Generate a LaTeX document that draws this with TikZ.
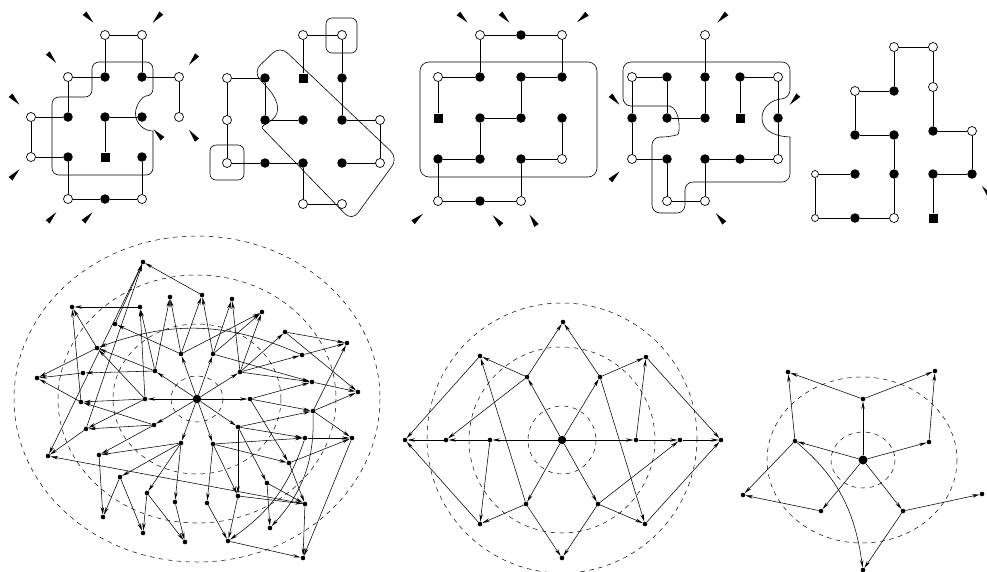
\documentclass[tikz,border=0pt]{standalone}
\usetikzlibrary{arrows.meta,calc,backgrounds}
\tikzset{
  opn/.style={circle, draw, fill=white, line width=0.7pt, inner sep=0pt, minimum size=9pt},
  fln/.style={circle, fill=black, inner sep=0pt, minimum size=9.5pt},
  sqn/.style={rectangle, fill=black, inner sep=0pt, minimum size=9pt},
  gl/.style={line width=0.7pt},
  reg/.style={line width=0.6pt},
  dot/.style={circle, fill=black, inner sep=0pt, minimum size=4.6pt},
  hub/.style={circle, fill=black, inner sep=0pt, minimum size=8.5pt},
  arr/.style={line width=0.55pt, -{Stealth[length=7.5pt,width=3.4pt]}},
  ring/.style={line width=0.5pt, dash pattern=on 4.5pt off 4.5pt}
}
% wedge-shaped pointer at (#1,#2) aimed at (#3,#4)
\newcommand{\tickmark}[4]{%
  \pgfmathsetmacro\tkang{atan2(-((#4)-(#2)),(#3)-(#1))}%
  \fill[shift={(#1,#2)}, rotate=\tkang] (6.5,0) -- (-6.5,2.6) -- (-6.5,-2.6) -- cycle;}
\begin{document}
\begin{tikzpicture}[x=1pt,y=-1pt]
\useasboundingbox (0,0) rectangle (987,571);

% ---------------- grid panel 1 ----------------
\node[opn] (p1) at (105,35) {}; \node[opn] (p2) at (142,35) {};
\node[opn] (p3) at (68,77) {};  \node[fln] (p4) at (105,77) {};
\node[fln] (p5) at (142,77) {}; \node[opn] (p6) at (179,77) {};
\node[opn] (p7) at (31,117) {}; \node[fln] (p8) at (68,117) {};
\node[fln] (p9) at (105,117) {}; \node[fln] (p10) at (142,117) {};
\node[opn] (p11) at (179,117) {};
\node[opn] (p12) at (31,157) {}; \node[fln] (p13) at (68,157) {};
\node[sqn] (p14) at (105,157) {}; \node[fln] (p15) at (142,157) {};
\node[opn] (p16) at (68,199) {}; \node[fln] (p17) at (105,199) {};
\node[opn] (p18) at (142,199) {};
\begin{scope}[on background layer]
\foreach \u/\v in {p1/p2,p1/p4,p2/p5,p3/p4,p5/p6,p6/p11,p3/p8,p7/p8,p7/p12,p12/p13,
  p9/p10,p9/p14,p13/p16,p16/p17,p17/p18,p15/p18}
  \draw[gl] (\u) -- (\v);
\draw[reg] [rounded corners=7] (52,140) -- (52,97) -- (92,97) -- (92,62) -- (153,62) -- (153,96)
  [sharp corners] arc[start angle=270, end angle=90, radius=17.5]
  [rounded corners=7] -- (153,175) -- (52,175) -- cycle;
\end{scope}
\tickmark{89}{18}{105}{35} \tickmark{157}{18}{142}{35}
\tickmark{52}{58}{68}{77}  \tickmark{193}{60}{179}{77}
\tickmark{15}{100}{31}{117} \tickmark{158}{134}{142}{117}
\tickmark{193}{135}{179}{117} \tickmark{15}{174}{31}{157}
\tickmark{52}{217}{68}{199} \tickmark{88}{217}{105}{199}

% ---------------- grid panel 2 ----------------
\node[opn] (q1) at (303,35) {}; \node[opn] (q2) at (342,35) {};
\node[opn] (q3) at (227,78) {}; \node[fln] (q4) at (265,78) {};
\node[sqn] (q5) at (303,78) {}; \node[fln] (q6) at (342,78) {};
\node[opn] (q7) at (227,120) {}; \node[fln] (q8) at (265,120) {};
\node[fln] (q9) at (303,120) {}; \node[fln] (q10) at (342,120) {};
\node[opn] (q11) at (380,120) {};
\node[opn] (q12) at (227,163) {}; \node[fln] (q13) at (265,163) {};
\node[fln] (q14) at (303,163) {}; \node[fln] (q15) at (342,163) {};
\node[opn] (q16) at (380,163) {};
\node[opn] (q17) at (303,204) {}; \node[opn] (q18) at (342,204) {};
\begin{scope}[on background layer]
\foreach \u/\v in {q1/q2,q1/q5,q2/q6,q6/q10,q3/q4,q3/q7,q7/q12,q4/q8,q8/q9,q10/q11,
  q11/q16,q15/q16,q12/q13,q13/q14,q14/q17,q17/q18}
  \draw[gl] (\u) -- (\v);
\draw[reg, rounded corners=6] (326,18) rectangle (357,53);
\draw[reg, rounded corners=6] (210,145) rectangle (244,180);
\draw[reg] (262,128) [rounded corners=10] -- (352,221) -- (398,158) -- (280,46) -- (253,72)
  [sharp corners] .. controls (266,86) and (281,100) .. (277,113)
  .. controls (274,122) and (262,124) .. (262,128) -- cycle;
\end{scope}

% ---------------- grid panel 3 ----------------
\node[opn] (r1) at (480,35) {}; \node[fln] (r2) at (521,35) {}; \node[opn] (r3) at (562,35) {};
\node[opn] (r4) at (438,77) {}; \node[fln] (r5) at (480,77) {};
\node[fln] (r6) at (521,77) {}; \node[fln] (r7) at (562,77) {};
\node[sqn] (r8) at (438,118) {}; \node[fln] (r9) at (480,118) {};
\node[fln] (r10) at (521,118) {}; \node[fln] (r11) at (562,118) {};
\node[fln] (r12) at (438,159) {}; \node[fln] (r13) at (480,159) {};
\node[fln] (r14) at (521,159) {}; \node[opn] (r15) at (562,159) {};
\node[opn] (r16) at (438,201) {}; \node[fln] (r17) at (480,201) {}; \node[opn] (r18) at (521,201) {};
\begin{scope}[on background layer]
\foreach \u/\v in {r1/r2,r2/r3,r1/r5,r3/r7,r4/r5,r6/r7,r4/r8,r6/r10,r9/r10,r9/r13,
  r12/r13,r11/r15,r14/r15,r12/r16,r16/r17,r17/r18,r14/r18}
  \draw[gl] (\u) -- (\v);
\draw[reg, rounded corners=9] (420,62) rectangle (597,177);
\end{scope}
\tickmark{463}{18}{480}{35} \tickmark{505}{18}{521}{35} \tickmark{582}{18}{562}{35}
\tickmark{418}{218}{438}{201} \tickmark{497}{220}{480}{201} \tickmark{533}{220}{521}{201}

% ---------------- grid panel 4 ----------------
\node[opn] (s1) at (705,35) {};
\node[opn] (s2) at (632,77) {}; \node[fln] (s3) at (667,77) {}; \node[fln] (s4) at (705,77) {};
\node[fln] (s5) at (740,77) {}; \node[opn] (s6) at (778,77) {};
\node[fln] (s7) at (632,118) {}; \node[fln] (s8) at (667,118) {}; \node[fln] (s9) at (705,118) {};
\node[sqn] (s10) at (740,118) {}; \node[fln] (s11) at (778,118) {};
\node[opn] (s12) at (632,159) {}; \node[fln] (s13) at (667,159) {}; \node[fln] (s14) at (705,159) {};
\node[fln] (s15) at (740,159) {}; \node[opn] (s16) at (778,159) {};
\node[opn] (s17) at (667,201) {}; \node[opn] (s18) at (705,201) {};
\begin{scope}[on background layer]
\foreach \u/\v in {s1/s4,s4/s9,s2/s3,s2/s7,s7/s12,s3/s8,s8/s9,s5/s6,s5/s10,s6/s11,
  s11/s16,s12/s13,s14/s15,s15/s16,s13/s17,s17/s18,s14/s18}
  \draw[gl] (\u) -- (\v);
\draw[reg] (623,90) [rounded corners=8] -- (623,62) -- (790,62) -- (790,98)
  [sharp corners] .. controls (770,100) and (762,108) .. (762,118)
  .. controls (762,128) and (770,136) .. (790,137)
  [rounded corners=8] -- (790,182) -- (685,182) -- (685,213) -- (652,213) -- (652,137) -- (670,137)
  [sharp corners] .. controls (680,134) and (681,110) .. (670,106)
  [rounded corners=8] -- (623,106) -- (623,90);
\end{scope}
\tickmark{722}{18}{705}{35} \tickmark{615}{100}{632}{118}
\tickmark{615}{176}{632}{159} \tickmark{720}{218}{705}{201}
\tickmark{794}{100}{778}{118}

% ---------------- grid panel 5 ----------------
\node[opn] (t1) at (894,47) {}; \node[opn] (t2) at (933,47) {};
\node[opn] (t3) at (855,91) {}; \node[fln] (t4) at (894,91) {}; \node[opn] (t5) at (933,87) {};
\node[fln] (t6) at (855,135) {}; \node[fln] (t7) at (894,135) {};
\node[fln] (t8) at (933,131) {}; \node[opn] (t9) at (972,131) {};
\node[opn, minimum size=7pt] (t10) at (815,174) {}; \node[fln] (t11) at (855,174) {};
\node[fln] (t12) at (894,174) {}; \node[fln] (t13) at (933,174) {}; \node[fln] (t14) at (972,174) {};
\node[opn, minimum size=7pt] (t15) at (815,218) {}; \node[fln] (t16) at (855,218) {};
\node[opn] (t17) at (894,218) {}; \node[sqn] (t18) at (933,218) {};
\begin{scope}[on background layer]
\foreach \u/\v in {t1/t2,t1/t4,t2/t5,t5/t8,t3/t4,t3/t6,t6/t7,t7/t12,t12/t17,t8/t9,
  t9/t14,t13/t14,t13/t18,t10/t11,t10/t15,t15/t16,t16/t17}
  \draw[gl] (\u) -- (\v);
\end{scope}
\tickmark{986}{191}{972}{174}

% ---------------- radial graph A ----------------
\draw[ring] (197,399) ellipse[x radius=26, y radius=23];
\draw[ring] (197,399) ellipse[x radius=84, y radius=75];
\draw[ring] (197,399) ellipse[x radius=139, y radius=124];
\draw[ring] (197,399) ellipse[x radius=183, y radius=163];
\node[hub] (A0) at (197,399) {};
\foreach \n/\x/\y in {a1/250/399,a2/240/372,a3/213/354,a4/181/354,a5/155/371,a6/145/399,
  a7/154/425,a8/181/443,a9/213/444,a10/238/427,
  b1/202/295,b2/170/297,b3/232/299,b4/140/307,b5/262/312,b6/115/324,b7/285/332,b8/97/348,
  b9/302/355,b10/83/373,b11/312/382,b12/81/402,b13/313/411,b14/86/429,b15/305/438,
  b16/99/455,b17/289/463,b18/120/477,b19/267/483,b20/147/493,b21/238/496,b22/175/502,b23/207/503,
  c1/143/262,c2/72/307,c3/347/343,c4/37/378,c5/358/392,c6/352/438,c7/48/456,c8/305/504,
  c9/103/517,c10/270/528,c11/143/533,c12/185/542,c13/228/541,d1/303/558}
  \node[dot] (A\n) at (\x,\y) {};
% edges leaving the hub and the first ring
\foreach \u/\v in {0/a1,0/a2,0/a3,0/a4,0/a5,0/a6,0/a7,0/a8,0/a9,0/a10,
  a1/b11,a1/b13,a1/b17,
  a2/b3,a2/b5,a2/b7,a2/b9,a2/b11,
  a3/b1,a3/b3,a3/b11,a3/b5,
  a4/b1,a4/b2,a4/b6,a4/b5,
  a5/b10,a5/b2,a5/b8,a5/b4,
  a6/b4,a6/b12,a6/b8,a6/b14,
  a7/b14,a7/b16,a7/b12,
  a8/b16,a8/b18,a8/b20,a8/b22,
  a9/b15,a9/b17,a9/b21,a9/b23,
  a10/b13,a10/b15,a10/b19,a10/b21}
  \draw[arr] (A\u) -- (A\v);
% edges leaving the second ring and beyond
\foreach \u/\v in {b1/c1,b6/c1,b14/c1,c1/c7,
  b4/c2,b12/c2,b8/c2,
  b7/c3,b9/c3,b13/c3,
  b10/c4,b12/c4,b8/c4,
  b7/c5,b11/c5,b13/c5,
  b15/c6,b17/c6,b13/c6,
  b14/c7,c8/c7,
  b17/c8,b19/c8,b21/c8,
  b16/c9,b18/c9,
  b19/c10,
  b18/c11,b20/c11,
  b22/c12,b20/c12,
  b21/c13,b23/c13,
  c6/d1,c13/d1,c8/d1}
  \draw[arr] (A\u) -- (A\v);
\draw[arr] (Ab9) to[bend right=22] (Ab8);
\draw[arr] (Ab13) to[bend left=22] (Ac10);
\draw[arr] (Ab15) to[bend left=18] (Ac13);

% ---------------- radial graph B ----------------
\draw[ring] (562,440) circle[radius=34];
\draw[ring] (562,440) circle[radius=93];
\draw[ring] (562,438) circle[radius=135];
\node[hub] (B0) at (562,440) {};
\foreach \n/\x/\y in {u1/527/377,u2/600/377,u3/490/440,u4/636/440,u5/526/504,u6/598/504,
  v1/563/322,v2/480/356,v3/646/357,v4/446/440,v5/680/440,v6/480/524,v7/645/524,v8/562/558,
  w1/405/440,w2/721/440}
  \node[dot] (B\n) at (\x,\y) {};
\foreach \u/\v in {0/u1,0/u2,0/u3,0/u4,0/u5,0/u6,
  u1/v2,u1/v1,u1/v4,u2/v1,u2/v3,u2/v7,u3/v4,u3/v6,u4/v5,u4/v3,
  u5/v6,u5/v8,u5/v2,u6/v8,u6/v7,u6/v5,
  v2/w1,v4/w1,v6/w1,v3/w2,v5/w2,v7/w2}
  \draw[arr] (B\u) -- (B\v);

% ---------------- radial graph C ----------------
\draw[ring] (863,460) ellipse[x radius=32, y radius=28];
\draw[ring] (862,460) ellipse[x radius=95, y radius=83];
\node[hub, minimum size=9pt] (C0) at (863,460) {};
\foreach \n/\x/\y in {u1/863/399,u2/795/441,u3/929/442,u4/821/511,u5/903/511,
  v1/788/372,v2/935/371,v3/743/495,v4/982/494,v5/863/570}
  \node[dot] (C\n) at (\x,\y) {};
\foreach \u/\v in {0/u1,0/u2,0/u3,0/u4,0/u5,u1/v1,u1/v2,u2/v1,u3/v2,u2/v3,u4/v3,u5/v4,u5/v5}
  \draw[arr] (C\u) -- (C\v);
\draw[arr] (Cu2) to[out=-40, in=98] (Cv5);
\end{tikzpicture}
\end{document}
